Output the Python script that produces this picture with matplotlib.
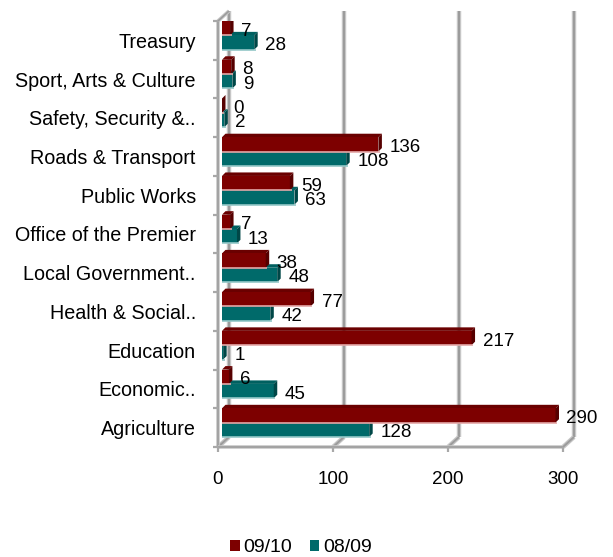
import matplotlib.pyplot as plt
from matplotlib.patches import Polygon, Patch

plt.rcParams['font.family'] = ['Liberation Sans', 'DejaVu Sans']

departments = ['Agriculture', 'Economic..', 'Education', 'Health & Social..',
               'Local Government..', 'Office of the Premier', 'Public Works',
               'Roads & Transport', 'Safety, Security &..', 'Sport, Arts & Culture',
               'Treasury']
y0910 = [290, 6, 217, 77, 38, 7, 59, 136, 0, 8, 7]
y0809 = [128, 45, 1, 42, 48, 13, 63, 108, 2, 9, 28]
xticks = [0, 100, 200, 300]
series_names = ['09/10', '08/09']

W, H = 613, 557
fig = plt.figure(figsize=(W / 100, H / 100), dpi=100)
fig.patch.set_facecolor('white')

# plot box in pixels (front plane)
left_px, bottom_px, top_px = 218, 447, 21
sx = 1.15                       # px per value unit
sy = (bottom_px - top_px) / 11  # px per category
width_px = 362
ax = fig.add_axes([left_px / W, (H - bottom_px) / H, width_px / W, (bottom_px - top_px) / H])
ax.set_xlim(0, width_px / sx)
ax.set_ylim(-0.5, 10.5)
ax.set_facecolor('none')
for s in ax.spines.values():
    s.set_visible(False)

def ux(px):
    return px / sx

def uy(px):
    return px / sy

# depth offsets of the 3d box
bdx, bdy = ux(11), uy(10)
grid_out, grid_in = '#c6c6c6', '#9c9c9c'

def wall_line(xs, ys, lw=3.2):
    ax.plot(xs, ys, color=grid_out, lw=lw, solid_capstyle='butt', clip_on=False, zorder=1)
    ax.plot(xs, ys, color=grid_in, lw=lw * 0.45, solid_capstyle='butt', clip_on=False, zorder=1)

# back wall gridlines and floor diagonals
for t in xticks:
    wall_line([t + bdx, t + bdx], [-0.5 + bdy, 10.5 + bdy])
    wall_line([t, t + bdx], [-0.5, -0.5 + bdy])
# left wall: front edge and top diagonal
wall_line([0, 0], [-0.5, 10.5], lw=2.6)
wall_line([0, bdx], [10.5, 10.5 + bdy], lw=2.6)
# floor front edge
wall_line([0, xticks[-1]], [-0.5, -0.5], lw=2.6)

# bars
bx0, bdy0 = ux(4), uy(5)
bh = 0.37
sd_x, sd_y = ux(3.5), uy(3.5)
series = [
    (y0809, -1, '#006a6a', '#004747', '#006060', '#93c7c7'),
    (y0910, 1, '#7d0000', '#560000', '#6a0000', '#e4a8a8'),
]
for vals, side, face, dark, topc, rim in series:
    for i, v in enumerate(vals):
        yb = i + bdy0 + (0 if side > 0 else -bh)
        yt = yb + bh
        xe = bx0 + v
        ax.add_patch(Polygon([(bx0, yt), (bx0 + sd_x, yt + sd_y), (xe + sd_x, yt + sd_y), (xe, yt)],
                             closed=True, facecolor=topc, edgecolor='none', zorder=3))
        ax.barh(i + bdy0 + side * bh / 2, v, height=bh, left=bx0, color=face,
                edgecolor='none', zorder=4)
        ax.add_patch(Polygon([(xe, yb), (xe + sd_x, yb + sd_y), (xe + sd_x, yt + sd_y), (xe, yt)],
                             closed=True, facecolor=dark, edgecolor='none', zorder=4))
        ax.plot([bx0, xe + sd_x * 0.5], [yb, yb], color=rim, lw=1.2, zorder=5,
                solid_capstyle='butt')
        ax.text(xe + ux(11), i + bdy0 + side * bh / 2 - uy(3), str(v),
                ha='left', va='center', fontsize=13.5, color='black', zorder=6)

# category axis
ax.set_yticks(range(len(departments)))
ax.set_yticklabels(departments, fontsize=14.2)
ax.tick_params(axis='y', length=0, pad=16)
ax.set_yticks([k - 0.5 for k in range(len(departments) + 1)], minor=True)
ax.tick_params(axis='y', which='minor', length=3.6, width=1.6, color='#a8a8a8')

# value axis
ax.set_xticks(xticks)
ax.set_xticklabels([str(t) for t in xticks], fontsize=13.5)
ax.tick_params(axis='x', length=3.6, width=1.6, color='#a8a8a8', pad=14)

handles = [Patch(facecolor='#7d0000', edgecolor='none'),
           Patch(facecolor='#006a6a', edgecolor='none')]
fig.legend(handles, series_names, loc='center', bbox_to_anchor=(301 / W, 1 - 548 / H),
           ncol=2, frameon=False, fontsize=14, handlelength=0.5, handleheight=0.5,
           handletextpad=0.2, columnspacing=0.9)

fig.savefig('out.png', dpi=100, facecolor='white')
